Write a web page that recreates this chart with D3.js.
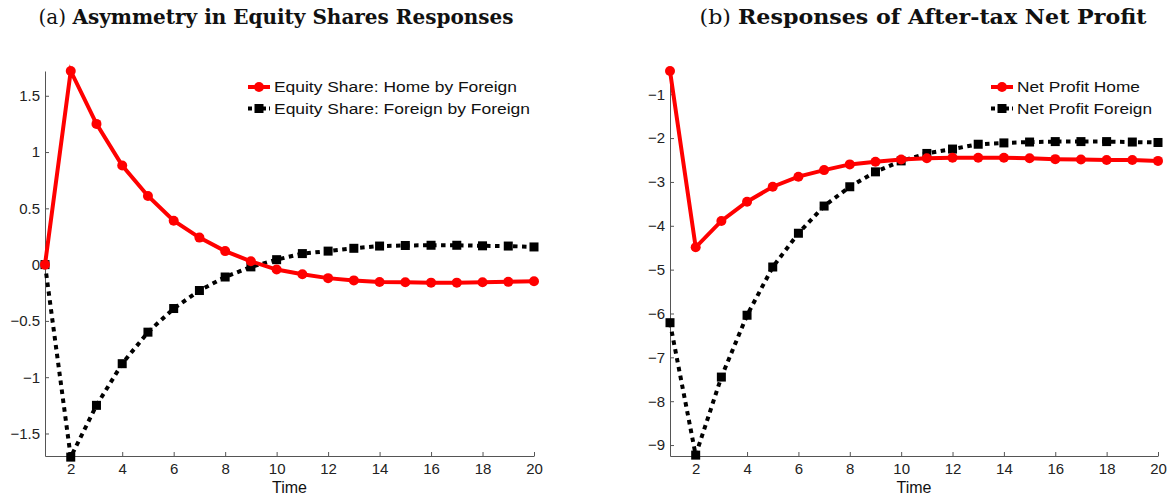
<!DOCTYPE html>
<html>
  <head>
    <meta charset="utf-8">
    <script src="https://d3js.org/d3.v7.min.js"></script>
    <style>
      body { margin: 0; background: white; }
      .tick text { font-family: "Liberation Sans", Arial, sans-serif; font-size: 15px; fill: #222; }
      .domain, .tick line { stroke: #555; }
      .title { font-family: "DejaVu Serif", serif; font-size: 20px; fill: #111; }
      .legend text { font-family: "Liberation Sans", Arial, sans-serif; font-size: 15.5px; fill: #111; }
      .xlabel { font-family: "Liberation Sans", Arial, sans-serif; font-size: 16px; fill: #111; }
    </style>
  </head>
  <body>
    <script>
      // time periods
      const time = d3.range(1, 21);

      // (a) equity shares
      const homeByForeign = [0, 1.72, 1.25, 0.88, 0.61, 0.39, 0.24, 0.12, 0.03, -0.044,
                             -0.086, -0.12, -0.14, -0.155, -0.157, -0.16, -0.16, -0.157, -0.153, -0.148];
      const foreignByForeign = [0, -1.71, -1.25, -0.88, -0.6, -0.39, -0.23, -0.11, -0.02, 0.044,
                                0.098, 0.12, 0.145, 0.165, 0.17, 0.172, 0.172, 0.167, 0.165, 0.157];

      // (b) net profit
      const profitHome = [-0.47, -4.49, -3.89, -3.45, -3.11, -2.88, -2.73, -2.6, -2.54, -2.49,
                          -2.46, -2.45, -2.45, -2.45, -2.46, -2.48, -2.49, -2.5, -2.5, -2.52];
      const profitForeign = [-6.21, -9.23, -7.45, -6.04, -4.94, -4.17, -3.55, -3.11, -2.77, -2.52,
                             -2.35, -2.25, -2.14, -2.11, -2.09, -2.08, -2.08, -2.08, -2.09, -2.1];

      const xTicks = [2, 4, 6, 8, 10, 12, 14, 16, 18, 20];
      const yTicksA = [-1.5, -1, -0.5, 0, 0.5, 1, 1.5];
      const yTicksB = [-9, -8, -7, -6, -5, -4, -3, -2, -1];

      const w = 1173, h = 496;
      const svg = d3.select('body').append('svg')
                    .attr('width', w)
                    .attr('height', h);

      function panel(opts) {
        const x = d3.scaleLinear().domain([1, 20]).range([opts.left, opts.right]);
        const y = d3.scaleLinear().domain(opts.yDomain).range([opts.bottom, opts.top]);

        svg.append('g')
           .attr('transform', `translate(0, ${opts.bottom})`)
           .call(d3.axisBottom(x).tickValues(xTicks).tickSize(-4).tickSizeOuter(0).tickPadding(7));

        svg.append('g')
           .attr('transform', `translate(${opts.left}, 0)`)
           .call(d3.axisLeft(y).tickValues(opts.yTicks).tickSize(-4).tickSizeOuter(0).tickPadding(5)
                   .tickFormat(d3.format('')));

        const line = d3.line().x((d, i) => x(time[i])).y(d => y(d));

        // foreign series (black dotted, squares)
        svg.append('path')
           .datum(opts.black)
           .attr('d', line)
           .attr('fill', 'none')
           .attr('stroke', 'black')
           .attr('stroke-width', 4)
           .attr('stroke-dasharray', '4.5,4.5');
        svg.selectAll(null)
           .data(opts.black)
           .enter()
           .append('rect')
           .attr('x', (d, i) => x(time[i]) - 4.5)
           .attr('y', d => y(d) - 4.5)
           .attr('width', 9)
           .attr('height', 9)
           .attr('fill', 'black');

        // home series (red solid, circles)
        svg.append('path')
           .datum(opts.red)
           .attr('d', line)
           .attr('fill', 'none')
           .attr('stroke', 'red')
           .attr('stroke-width', 4);
        svg.selectAll(null)
           .data(opts.red)
           .enter()
           .append('circle')
           .attr('cx', (d, i) => x(time[i]))
           .attr('cy', d => y(d))
           .attr('r', 5)
           .attr('fill', 'red');

        // title
        const t = svg.append('text')
                     .attr('class', 'title')
                     .attr('x', opts.titleX)
                     .attr('y', 24)
                     .attr('text-anchor', 'middle')
                     .attr('textLength', opts.titleW)
                     .attr('lengthAdjust', 'spacingAndGlyphs');
        t.append('tspan').text(opts.label + ' ');
        t.append('tspan').attr('font-weight', 'bold').text(opts.title);

        svg.append('text')
           .attr('class', 'xlabel')
           .attr('x', (opts.left + opts.right) / 2)
           .attr('y', 493)
           .attr('text-anchor', 'middle')
           .text('Time');

        // legend
        const lg = svg.append('g').attr('class', 'legend')
                      .attr('transform', `translate(${opts.legendX}, 87)`);
        lg.append('line').attr('x1', 0).attr('x2', 22).attr('y1', 0).attr('y2', 0)
          .attr('stroke', 'red').attr('stroke-width', 4);
        lg.append('circle').attr('cx', 11).attr('cy', 0).attr('r', 5).attr('fill', 'red');
        lg.append('text').attr('x', 26).attr('y', 0).attr('dy', '0.35em')
          .attr('textLength', opts.legendW[0]).attr('lengthAdjust', 'spacingAndGlyphs')
          .text(opts.names[0]);
        lg.append('line').attr('x1', 0).attr('x2', 22).attr('y1', 21.5).attr('y2', 21.5)
          .attr('stroke', 'black').attr('stroke-width', 4).attr('stroke-dasharray', '4,3');
        lg.append('rect').attr('x', 6.5).attr('y', 17).attr('width', 9).attr('height', 9).attr('fill', 'black');
        lg.append('text').attr('x', 26).attr('y', 21.5).attr('dy', '0.35em')
          .attr('textLength', opts.legendW[1]).attr('lengthAdjust', 'spacingAndGlyphs')
          .text(opts.names[1]);
      }

      panel({
        left: 45, right: 534, top: 71, bottom: 456,
        yDomain: [-1.70, 1.72], yTicks: yTicksA,
        red: homeByForeign, black: foreignByForeign,
        label: '(a)', title: 'Asymmetry in Equity Shares Responses', titleX: 276, titleW: 475,
        legendX: 248, legendW: [243, 256],
        names: ['Equity Share: Home by Foreign', 'Equity Share: Foreign by Foreign']
      });

      panel({
        left: 670, right: 1158, top: 71, bottom: 456,
        yDomain: [-9.25, -0.47], yTicks: yTicksB,
        red: profitHome, black: profitForeign,
        label: '(b)', title: 'Responses of After-tax Net Profit', titleX: 923, titleW: 447,
        legendX: 991, legendW: [123, 135],
        names: ['Net Profit Home', 'Net Profit Foreign']
      });
    </script>
  </body>
</html>
